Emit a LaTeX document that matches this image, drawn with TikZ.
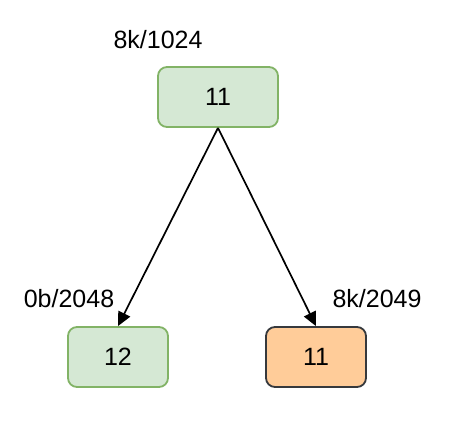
\documentclass[tikz,border=0pt]{standalone}
\usepackage{fontspec}
\setmainfont{Liberation Sans}
\usetikzlibrary{arrows.meta}
\definecolor{gfill}{HTML}{D5E8D4}
\definecolor{gdraw}{HTML}{82B366}
\definecolor{ofill}{HTML}{FFCC99}
\definecolor{odraw}{HTML}{36393D}
\tikzset{
  box/.style={rectangle, rounded corners=9pt, line width=1.8pt, minimum width=100pt, minimum height=60pt, inner sep=0pt, font=\fontsize{25}{28}\selectfont},
  gbox/.style={box, fill=gfill, draw=gdraw},
  obox/.style={box, fill=ofill, draw=odraw},
  lbl/.style={font=\fontsize{25}{28}\selectfont, inner sep=0pt},
  arr/.style={-{Triangle[length=14pt,width=13pt]}, line width=1.7pt, black}
}
\begin{document}
\begin{tikzpicture}[x=1pt,y=-1pt]
\useasboundingbox (0,0) rectangle (468,422);
\node[gbox, minimum width=120pt] (top) at (218,97) {11};
\node[gbox] (left) at (118,357) {12};
\node[obox] (right) at (316,357) {11};
\node[lbl] (ltop) at (158,40) {8k/1024};
\node[lbl] (lleft) at (69,299) {0b/2048};
\node[lbl] (lright) at (377,299) {8k/2049};
\draw[arr] (top.south) -- (left.north);
\draw[arr] (top.south) -- (right.north);
\end{tikzpicture}
\end{document}
